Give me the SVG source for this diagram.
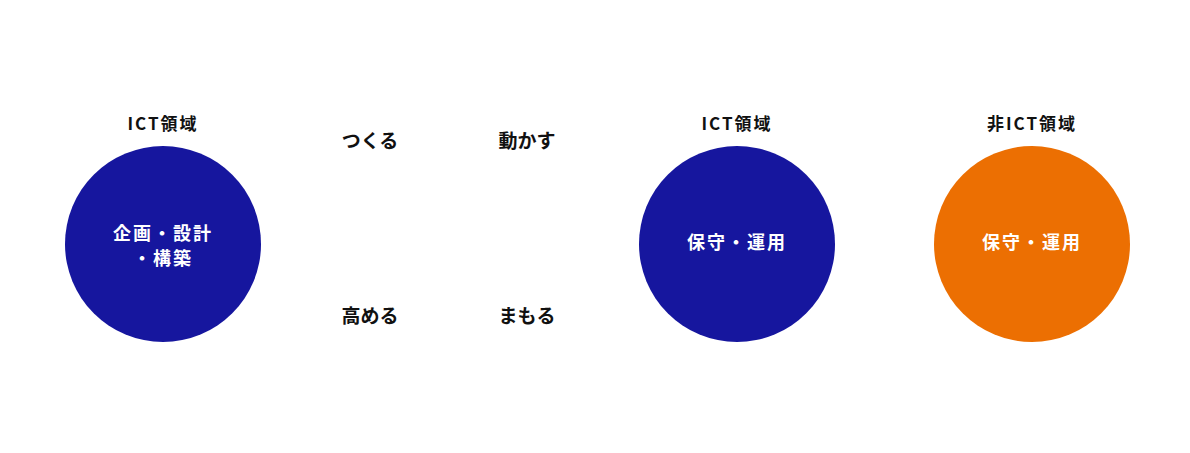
<svg xmlns="http://www.w3.org/2000/svg" width="1190" height="453" viewBox="0 0 1190 453">
<style>
text{font-family:"Noto Sans CJK JP","Noto Sans",sans-serif;font-weight:bold;text-anchor:middle}
.h{font-size:17px;fill:#111;letter-spacing:2px}
.w{font-size:19px;fill:#111}
.c{font-size:18px;fill:#fff;letter-spacing:2px}
.b{fill:#16169e}
.o{fill:#ec6f02}
</style>
<rect width="1190" height="453" fill="#fff"/>
<g id="node1"><text class="h" x="163" y="130">ICT領域</text><circle class="b" cx="163" cy="244" r="98"/><text class="c" x="163" y="240">企画・設計</text><text class="c" x="163" y="265">・構築</text></g>
<g id="labels"><text class="w" x="370" y="148">つくる</text><text class="w" x="527" y="148">動かす</text><text class="w" x="370" y="323">高める</text><text class="w" x="527" y="323">まもる</text></g>
<g id="node2"><text class="h" x="737" y="130">ICT領域</text><circle class="b" cx="737" cy="244" r="98"/><text class="c" x="737" y="249">保守・運用</text></g>
<g id="node3"><text class="h" x="1032" y="130">非ICT領域</text><circle class="o" cx="1032" cy="244" r="98"/><text class="c" x="1032" y="249">保守・運用</text></g>
<g id="connectors"/>
</svg>
